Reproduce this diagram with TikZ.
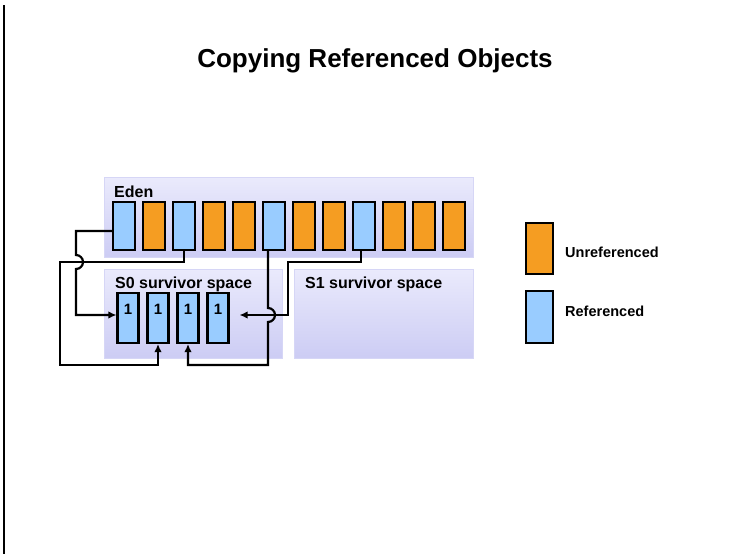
\documentclass[tikz,border=0pt]{standalone}
\usepackage{fontspec}
\setmainfont{Liberation Sans}
\usepackage{tikz}
\usetikzlibrary{arrows.meta}
\definecolor{refblue}{RGB}{153,204,255}
\definecolor{unreforange}{RGB}{245,157,34}
\definecolor{spacetop}{RGB}{234,234,252}
\definecolor{spacebot}{RGB}{204,204,244}
\definecolor{spaceedge}{RGB}{214,214,246}
\tikzstyle{space} = [draw=spaceedge, line width=1pt, rectangle,
    top color=spacetop, bottom color=spacebot, anchor=north west, inner sep=0pt]
\tikzstyle{refobj} = [draw, fill=refblue, rectangle, line width=2.1pt,
    minimum width=22pt, minimum height=48pt, inner sep=0pt]
\tikzstyle{unrefobj} = [draw, fill=unreforange, rectangle, line width=2.1pt,
    minimum width=22pt, minimum height=48pt, inner sep=0pt]
\tikzstyle{copied} = [refobj, minimum width=21pt, minimum height=50pt,
    label={[font=\bfseries\fontsize{15}{18}\selectfont, anchor=north,
    inner sep=0pt, yshift=-12pt]north:1}]
\tikzstyle{spacelabel} = [anchor=base west, inner sep=0pt,
    font=\bfseries\fontsize{16}{19}\selectfont]
\tikzstyle{legendtext} = [anchor=base west, inner sep=0pt,
    font=\bfseries\fontsize{14.5}{17}\selectfont]
\tikzstyle{conn} = [line width=2.2pt, -{Latex[length=8pt,width=7.5pt]}]

\begin{document}
\begin{tikzpicture}[x=1pt, y=1pt, node distance=30pt]
    \useasboundingbox (0,0) rectangle (734,-554);
    % slide edge
    \draw [line width=1.3pt] (4,-5) -- (4,-554);

    % title
    \node [anchor=base, inner sep=0pt, font=\bfseries\fontsize{26}{31}\selectfont]
        (title) at (375,-67) {Copying Referenced Objects};

    % % % % % % % % % % % % % % % % % % % % % % %
    % Heap spaces
    % % % % % % % % % % % % % % % % % % % % % % %
    \node [space, minimum width=369pt, minimum height=80pt] (eden) at (104,-177) {};
    \node [space, minimum width=178pt, minimum height=89pt] (s0) at (104,-269) {};
    \node [space, minimum width=179pt, minimum height=89pt] (s1) at (294,-269) {};

    \node [spacelabel] (edenlabel) at (114,-197) {Eden};
    \node [spacelabel] (s0label) at (115,-288) {S0 survivor space};
    \node [spacelabel] (s1label) at (305,-288) {S1 survivor space};

    % Objects in eden
    \node [refobj] (e1) at (124,-226) {};
    \node [unrefobj, right of=e1] (e2) {};
    \node [refobj, right of=e2] (e3) {};
    \node [unrefobj, right of=e3] (e4) {};
    \node [unrefobj, right of=e4] (e5) {};
    \node [refobj, right of=e5] (e6) {};
    \node [unrefobj, right of=e6] (e7) {};
    \node [unrefobj, right of=e7] (e8) {};
    \node [refobj, right of=e8] (e9) {};
    \node [unrefobj, right of=e9] (e10) {};
    \node [unrefobj, right of=e10] (e11) {};
    \node [unrefobj, right of=e11] (e12) {};

    % Copies in S0
    \node [copied] (c1) at (128,-318) {};
    \node [copied, right of=c1] (c2) {};
    \node [copied, right of=c2] (c3) {};
    \node [copied, right of=c3] (c4) {};

    % Legend
    \node [unrefobj, minimum width=27pt, minimum height=51pt] (legunref) at (539.5,-248.5) {};
    \node [refobj, minimum width=27pt, minimum height=52pt] (legref) at (539.5,-317) {};
    \node [legendtext] (legunreftext) at (565,-257) {Unreferenced};
    \node [legendtext] (legreftext) at (565,-316) {Referenced};

    % Copy paths, the jumps go over the crossing lines
    \draw [conn] ([yshift=-5pt]e1.west) -- (76,-231) -- (76,-255)
        arc [start angle=90, end angle=-90, radius=7] -- (76,-315)
        -- ([yshift=3pt]c1.west);
    \draw [conn] (e3.south) |- (60,-262) -- (60,-365) -| (c2.south);
    \draw [conn] ([xshift=-6pt]e6.south) -- (268,-308)
        arc [start angle=90, end angle=-90, radius=7] -- (268,-365) -| (c3.south);
    \draw [conn] ([xshift=-3pt]e9.south) |- (288,-262) -- (288,-315)
        -- ([xshift=10pt,yshift=3pt]c4.east);
\end{tikzpicture}
\end{document}
